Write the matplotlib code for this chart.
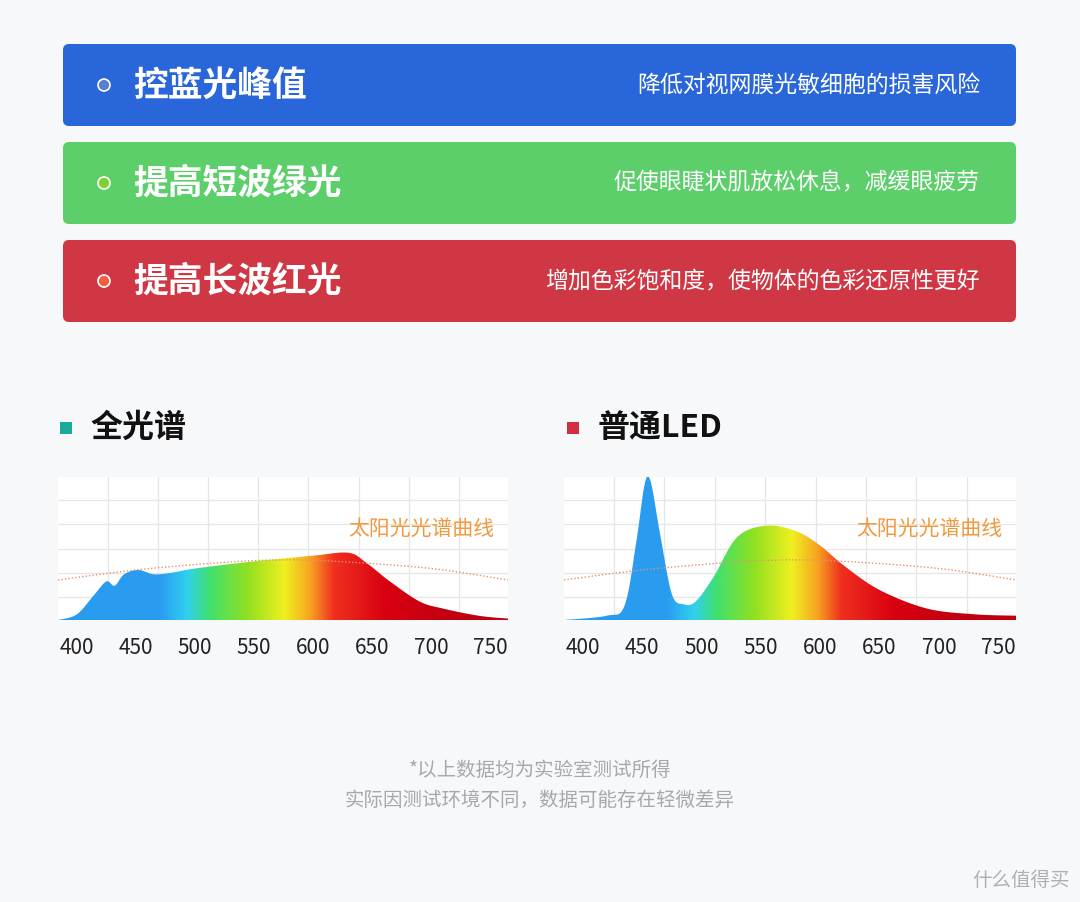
import numpy as np
import matplotlib
matplotlib.use("Agg")
import matplotlib.pyplot as plt
from matplotlib.patches import FancyBboxPatch, Rectangle, Circle
from matplotlib.colors import LinearSegmentedColormap

plt.rcParams['font.family'] = ['Noto Sans CJK SC', 'DejaVu Sans']

banner_titles = ["控蓝光峰值", "提高短波绿光", "提高长波红光"]
banner_notes = ["降低对视网膜光敏细胞的损害风险", "促使眼睫状肌放松休息，减缓眼疲劳", "增加色彩饱和度，使物体的色彩还原性更好"]
banner_colors = ["#2866d9", "#5ccf6b", "#cf3745"]
dot_colors = ["#5b7fd0", "#7fd030", "#f06040"]

wl_full = [384, 400, 415, 425, 432, 440, 452, 465, 480, 500, 550, 600, 630, 645, 665, 690, 710, 740, 765]
val_full = [0, 4, 18, 27, 24, 32, 35, 32, 33, 36, 41, 45, 47, 40, 27, 13, 8, 3, 1]
wl_led = [384, 420, 435, 445, 452, 457, 465, 475, 485, 495, 510, 530, 555, 580, 600, 620, 650, 690, 730, 765]
val_led = [0, 3, 10, 55, 95, 97, 60, 18, 11, 13, 30, 58, 66, 62, 52, 38, 21, 8, 4, 3]
wl_sun = [384, 450, 520, 570, 620, 700, 765]
val_sun = [28, 35, 40, 42, 41, 36, 28]
ticks = [400, 450, 500, 550, 600, 650, 700, 750]

def smooth(xp, yp, n=20):
    # Catmull-Rom style curve through the read points (drawing only)
    xp = np.asarray(xp, float); yp = np.asarray(yp, float)
    P = np.column_stack([xp, yp])
    P = np.vstack([P[0], P, P[-1]])
    out = []
    for i in range(1, len(P) - 2):
        p0, p1, p2, p3 = P[i-1], P[i], P[i+1], P[i+2]
        t = np.linspace(0, 1, n, endpoint=False)[:, None]
        c = 0.5 * ((2*p1) + (-p0 + p2)*t + (2*p0 - 5*p1 + 4*p2 - p3)*t**2 + (-p0 + 3*p1 - 3*p2 + p3)*t**3)
        out.append(c)
    out.append(P[-2][None, :])
    c = np.vstack(out)
    return c[:, 0], np.clip(c[:, 1], 0, None)

W, H = 1080, 902
fig = plt.figure(figsize=(W/100, H/100), dpi=100)
fig.patch.set_facecolor("#f7f8fa")
bg = fig.add_axes([0, 0, 1, 1]); bg.set_xlim(0, W); bg.set_ylim(H, 0); bg.axis("off")

tops = [44, 142, 240]
for t, title, note, c, dc in zip(tops, banner_titles, banner_notes, banner_colors, dot_colors):
    bg.add_patch(FancyBboxPatch((63, t), 953, 82, boxstyle="round,pad=0,rounding_size=6", fc=c, ec="none"))
    bg.add_patch(Circle((104, t+41), 6, fc=dc, ec="white", lw=1.2))
    bg.text(133, t+41, title, color="white", fontsize=25, fontweight="bold", va="center", ha="left")
    bg.text(980, t+41, note, color="white", fontsize=16.5, va="center", ha="right")

bg.add_patch(Rectangle((60, 422), 12, 12, fc="#1aa99a"))
bg.text(90, 428, "全光谱", fontsize=23, fontweight="bold", va="center", color="#111111")
bg.add_patch(Rectangle((567, 422), 12, 12, fc="#d03040"))
bg.text(598, 428, "普通LED", fontsize=23, fontweight="bold", va="center", color="#111111")

bg.text(540, 770, "*以上数据均为实验室测试所得", fontsize=14, color="#a8a8a8", ha="center", va="center")
bg.text(540, 800, "实际因测试环境不同，数据可能存在轻微差异", fontsize=14, color="#a8a8a8", ha="center", va="center")
bg.text(1070, 880, "什么值得买", fontsize=14, color="#b0b0b0", ha="right", va="center")

cmap = LinearSegmentedColormap.from_list("spec", [
    (0.0, "#2a9cf0"), (0.22, "#2a9cf0"), (0.29, "#30d0f0"), (0.35, "#40e070"),
    (0.45, "#90e020"), (0.55, "#f0f020"), (0.62, "#f8a020"), (0.68, "#f03020"),
    (0.82, "#d80010"), (1.0, "#c00010")])

def chart(x0, x1, wl, val):
    ax = fig.add_axes([x0/W, 1-620/H, (x1-x0)/W, 143/H])
    ax.set_xlim(384, 765); ax.set_ylim(0, 100)
    ax.set_facecolor("white")
    for s in ax.spines.values():
        s.set_visible(False)
    for gx in np.arange(426, 765, 42.5):
        ax.axvline(gx, color="#e6e6e6", lw=0.9, zorder=0)
    for gy in [16, 33, 50, 67, 84]:
        ax.axhline(gy, color="#e6e6e6", lw=0.9, zorder=0)
    ax.set_xticks([]); ax.set_yticks([])
    xs, ys = smooth(wl, val)
    poly = ax.fill_between(xs, 0, ys, color="none")
    im = ax.imshow(np.linspace(0, 1, 400)[None, :], cmap=cmap, aspect="auto",
                   extent=[400, 720, 0, 100], zorder=2)
    im2 = ax.imshow(np.zeros((1, 2)), cmap=cmap, aspect="auto", extent=[384, 400, 0, 100], zorder=2, vmin=0, vmax=1)
    im3 = ax.imshow(np.ones((1, 2)), cmap=cmap, aspect="auto", extent=[720, 765, 0, 100], zorder=2, vmin=0, vmax=1)
    path = poly.get_paths()[0]
    for i in (im, im2, im3):
        i.set_clip_path(path, transform=ax.transData)
    sx, sy = smooth(wl_sun, val_sun)
    ax.plot(sx, sy, ls=(0, (1, 1.5)), color="#e89070", lw=1, zorder=3)
    ax.text(0.97, 0.64, "太阳光光谱曲线", transform=ax.transAxes, color="#f09a40", fontsize=15, ha="right", va="center", zorder=4)
    for t in ticks:
        px = x0 + (t-384)/(765-384)*(x1-x0)
        bg.text(px, 648, str(t), fontsize=15, ha="center", va="center", color="#222222")

chart(58, 508, wl_full, val_full)
chart(564, 1016, wl_led, val_led)

fig.savefig("out.png", dpi=100, facecolor=fig.get_facecolor())
